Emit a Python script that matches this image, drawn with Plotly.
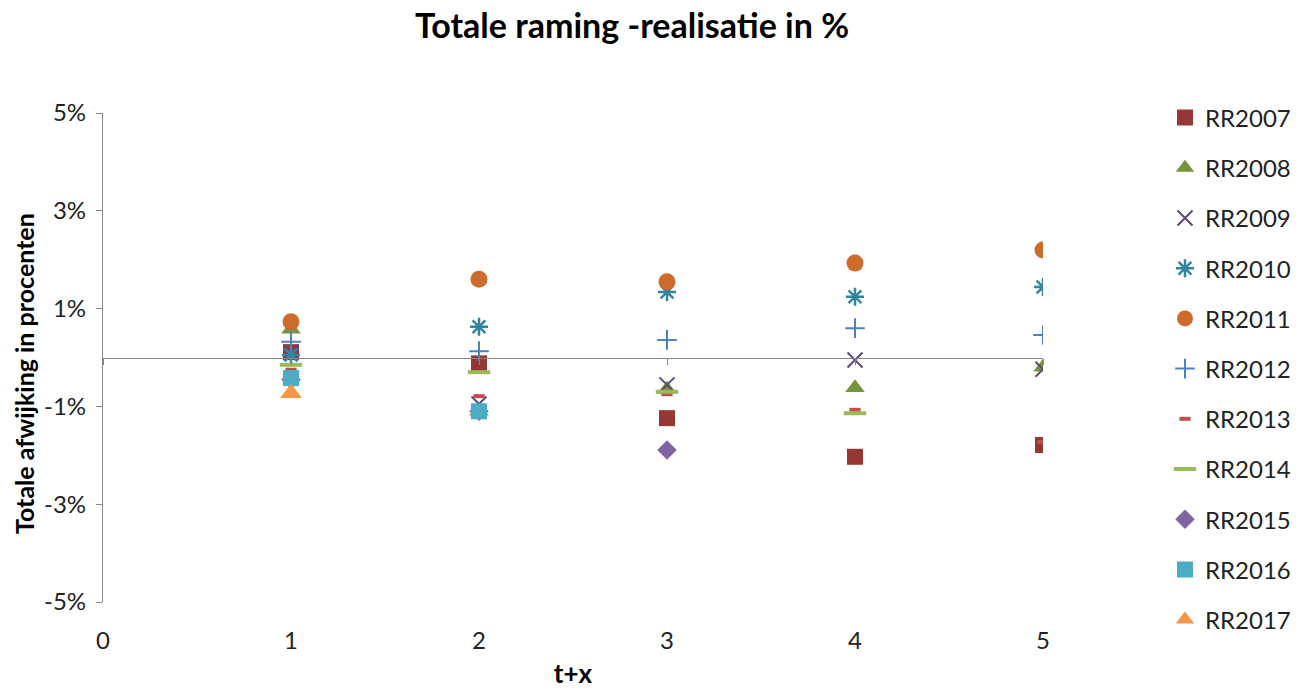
import plotly.graph_objects as go

x_vals = [1, 2, 3, 4, 5]
series_names = ["RR2007", "RR2008", "RR2009", "RR2010", "RR2011", "RR2012",
                "RR2013", "RR2014", "RR2015", "RR2016", "RR2017"]
rr2007 = [0.11, -0.12, -1.24, -2.03, -1.79]
rr2008 = [0.58, -1.10, -0.65, -0.62, -0.20]
rr2009 = [0.10, -0.95, -0.56, -0.05, -0.24]
rr2010 = [0.05, 0.63, 1.34, 1.24, 1.44]
rr2011 = [0.73, 1.60, 1.55, 1.93, 2.20]
rr2012 = [0.32, 0.13, 0.36, 0.60, 0.46]
rr2013 = [-0.25, -0.79, -0.75, -1.07, -1.73]
rr2014 = [-0.15, -0.30, -0.70, -1.14]
rr2015 = [-0.45, -1.10, -1.89]
rr2016 = [-0.42, -1.10]
rr2017 = [-0.73]

values = [rr2007, rr2008, rr2009, rr2010, rr2011, rr2012,
          rr2013, rr2014, rr2015, rr2016, rr2017]

styles = [
    dict(symbol="square", color="#953735", size=16),
    dict(symbol="triangle-up", color="#77933C", size=17),
    dict(symbol="x-thin-open", color="#5F497A", size=15, lw=2),
    dict(symbol="asterisk-open", color="#31859C", size=15, lw=2.5),
    dict(symbol="circle", color="#CC6B2C", size=17),
    dict(symbol="cross-thin-open", color="#4F81BD", size=14, lw=2),
    dict(symbol="line-ew-open", color="#C0504D", size=8, lw=4),
    dict(symbol="line-ew-open", color="#9BBB59", size=16, lw=4),
    dict(symbol="diamond", color="#8064A2", size=15),
    dict(symbol="square", color="#4BACC6", size=16),
    dict(symbol="triangle-up", color="#F79646", size=19),
]

fig = go.Figure()
for name, vals, st in zip(series_names, values, styles):
    marker = dict(symbol=st["symbol"], size=st["size"], color=st["color"])
    if "lw" in st:
        marker["line"] = dict(color=st["color"], width=st["lw"])
    else:
        marker["line"] = dict(width=0)
    fig.add_trace(go.Scatter(
        x=x_vals[:len(vals)], y=vals, mode="markers", name=name,
        marker=marker, legendgroup=name,
    ))

font_family = "Lato, 'Open Sans', sans-serif"
W, H = 1291, 681

fig.update_layout(
    width=W, height=H,
    paper_bgcolor="white", plot_bgcolor="white",
    margin=dict(l=95, r=256, t=105, b=87, autoexpand=False),
    font=dict(family=font_family, color="#000000", size=24),
    title=dict(text="<b>Totale raming -realisatie in %</b>", x=624 / W, xanchor="center",
               y=1 - 18 / H, yanchor="middle", yref="container",
               font=dict(size=34, family=font_family, color="#000000")),
    xaxis=dict(range=[0, 5], tickvals=[0, 1, 2, 3, 4, 5], showgrid=False, zeroline=False,
               showline=False, ticks="", ticklabelstandoff=22, automargin=False,
               tickfont=dict(size=24, color="#222222"),
               title=dict(text="<b>t+x</b>", font=dict(size=26), standoff=15)),
    xaxis2=dict(range=[0, 5], overlaying="x", anchor="free", position=0.5, side="bottom",
                tickvals=[0, 1, 2, 3, 4, 5], showticklabels=False, showgrid=False,
                zeroline=False, showline=True, linecolor="#868686", linewidth=1.3,
                ticks="outside", ticklen=6, tickcolor="#868686", automargin=False),
    yaxis=dict(range=[-5, 5], tickvals=[-5, -3, -1, 1, 3, 5],
               ticktext=["-5%", "-3%", "-1%", "1%", "3%", "5%"],
               showgrid=False, zeroline=False, showline=True, linecolor="#868686",
               linewidth=1.3, ticks="outside", ticklen=6, tickcolor="#868686",
               automargin=False, ticklabelstandoff=5,
               tickfont=dict(size=24, color="#222222")),
    legend=dict(xref="container", yref="container", x=1157 / W, xanchor="left",
                y=1 - 87.5 / H, yanchor="top", maxheight=660,
                font=dict(size=24, color="#222222"), tracegroupgap=16,
                bgcolor="rgba(0,0,0,0)"),
    showlegend=True,
    annotations=[dict(text="<b>Totale afwijking in procenten</b>", textangle=-90,
                      xref="paper", yref="paper", x=-(95 - 16) / 940,
                      y=(594 - 366) / 489, xanchor="center", yanchor="middle",
                      showarrow=False, font=dict(size=25, color="#000000"))],
)
# invisible trace to activate the crossing axis at y=0
fig.add_trace(go.Scatter(x=[0, 5], y=[0, 0], xaxis="x2", mode="lines",
                         line=dict(width=0), hoverinfo="skip", showlegend=False))

fig.write_html("out.html")
